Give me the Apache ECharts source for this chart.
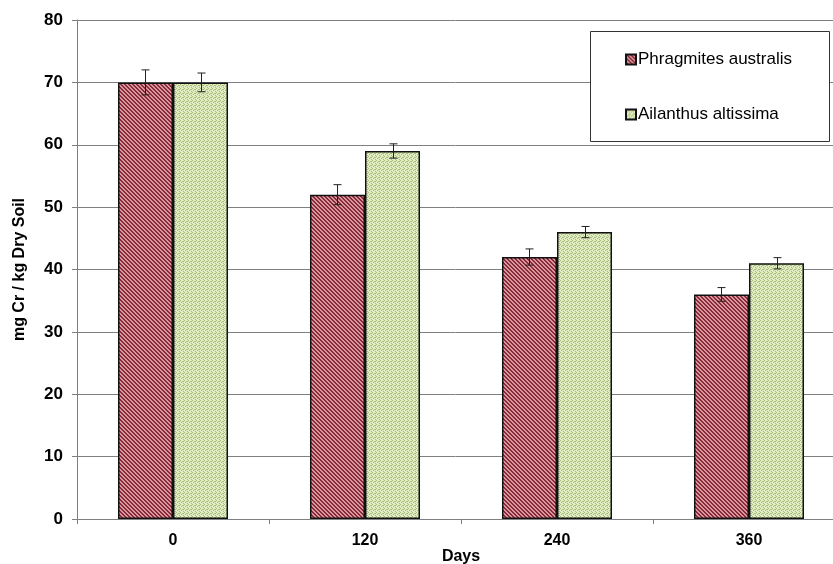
<!DOCTYPE html>
<html><head><meta charset="utf-8">
<script src="https://cdn.jsdelivr.net/npm/echarts@6/dist/echarts.min.js"></script>
<style>html,body{margin:0;padding:0;background:#fff}#c{width:833px;height:564px}</style>
</head><body><div id="c"></div>
<script>
const categories = ['0', '120', '240', '360'];
const seriesNames = ['Phragmites australis', 'Ailanthus altissima'];
const phragmites = [70, 52, 42, 36];
const phragmitesErr = [2.0, 1.6, 1.3, 1.1];
const ailanthus = [70, 59, 46, 41];
const ailanthusErr = [1.5, 1.15, 0.9, 0.9];
const yTicks = [0, 10, 20, 30, 40, 50, 60, 70, 80];

function makePattern(kind) {
  const c = document.createElement('canvas');
  c.width = 4; c.height = 4;
  const g = c.getContext('2d');
  if (kind === 'red') {
    g.fillStyle = '#d8969e'; g.fillRect(0, 0, 4, 4);
    g.fillStyle = '#882a38';
    for (let y = 0; y < 4; y++) for (let x = 0; x < 4; x++) {
      const d = ((x - y) % 4 + 4) % 4;
      if (d === 0 || d === 1) g.fillRect(x, y, 1, 1);
    }
  } else {
    g.fillStyle = '#e2edc2'; g.fillRect(0, 0, 4, 4);
    g.fillStyle = '#a3bb7c';
    [[0,0],[2,1],[1,2],[3,3],[3,1]].forEach(p => g.fillRect(p[0], p[1], 1, 1));
  }
  return c;
}
const redFill = { image: makePattern('red'), repeat: 'repeat' };
const greenFill = { image: makePattern('green'), repeat: 'repeat' };

const chart = echarts.init(document.getElementById('c'), null, { renderer: 'canvas' });
const catGap = 0.427;

function errSeries(vals, errs, side) {
  return {
    type: 'custom',
    z: 10,
    data: vals.map((v, i) => [i, v, errs[i]]),
    renderItem: function (params, api) {
      const i = api.value(0), v = api.value(1), e = api.value(2);
      const band = api.size([1, 0])[0];
      const bw = band * (1 - catGap) / 2;
      const x = Math.round(api.coord([i, v])[0] + side * bw / 2) + 0.5;
      const yt = api.coord([i, v + e])[1];
      const yb = api.coord([i, v - e])[1];
      const cap = 4;
      const st = { stroke: '#222', lineWidth: 1 };
      return { type: 'group', children: [
        { type: 'line', shape: { x1: x, y1: yt, x2: x, y2: yb }, style: st },
        { type: 'line', shape: { x1: x - cap, y1: yt, x2: x + cap, y2: yt }, style: st },
        { type: 'line', shape: { x1: x - cap, y1: yb, x2: x + cap, y2: yb }, style: st }
      ]};
    },
    tooltip: { show: false },
    silent: true
  };
}

chart.setOption({
  animation: false,
  textStyle: { fontFamily: 'Liberation Sans, Arial, sans-serif' },
  grid: { left: 77, top: 20, bottom: 45, width: 768, containLabel: false, outerBoundsMode: 'none' },
  graphic: [{
    type: 'rect', left: 590, top: 31, z: 5,
    shape: { width: 239, height: 110 },
    style: { fill: '#fff', stroke: '#333', lineWidth: 1 }
  }],
  legend: {
    left: 620, top: 46, orient: 'vertical', itemGap: 38,
    itemWidth: 10, itemHeight: 10, z: 10,
    textStyle: { fontSize: 17, color: '#000', fontFamily: 'Liberation Sans, Arial, sans-serif', padding: [0, 0, 0, -3] },
    data: seriesNames.map(n => ({ name: n, icon: 'rect' }))
  },
  xAxis: {
    type: 'category', data: categories,
    name: 'Days', nameLocation: 'middle', nameGap: 30, nameMoveOverlap: false,
    nameTextStyle: { fontSize: 16, fontWeight: 'bold', color: '#000', verticalAlign: 'top' },
    axisLine: { lineStyle: { color: '#808080', width: 1 } },
    axisTick: { show: true, length: 5, lineStyle: { color: '#808080' } },
    axisLabel: { fontSize: 16, fontWeight: 'bold', color: '#000', margin: 14 }
  },
  yAxis: {
    type: 'value', min: 0, max: 80, interval: 10,
    name: 'mg Cr / kg Dry Soil', nameLocation: 'middle', nameGap: 49, nameRotate: 90, nameMoveOverlap: false,
    nameTextStyle: { fontSize: 16, fontWeight: 'bold', color: '#000' },
    axisLine: { show: true, lineStyle: { color: '#808080', width: 1 } },
    axisTick: { show: true, length: 5, lineStyle: { color: '#808080' } },
    axisLabel: { fontSize: 17, fontWeight: 'bold', color: '#000', margin: 14,
      formatter: v => yTicks.includes(v) ? String(v) : '' },
    splitLine: { show: true, lineStyle: { color: '#808080', width: 1 } }
  },
  series: [
    { name: seriesNames[0], type: 'bar', data: phragmites, barGap: '0%', barCategoryGap: (catGap * 100) + '%',
      itemStyle: { color: redFill, borderColor: '#111', borderWidth: 1.5 } },
    { name: seriesNames[1], type: 'bar', data: ailanthus, barGap: '0%', barCategoryGap: (catGap * 100) + '%',
      itemStyle: { color: greenFill, borderColor: '#111', borderWidth: 1.5 } },
    errSeries(phragmites, phragmitesErr, -1),
    errSeries(ailanthus, ailanthusErr, 1)
  ]
});
</script></body></html>
